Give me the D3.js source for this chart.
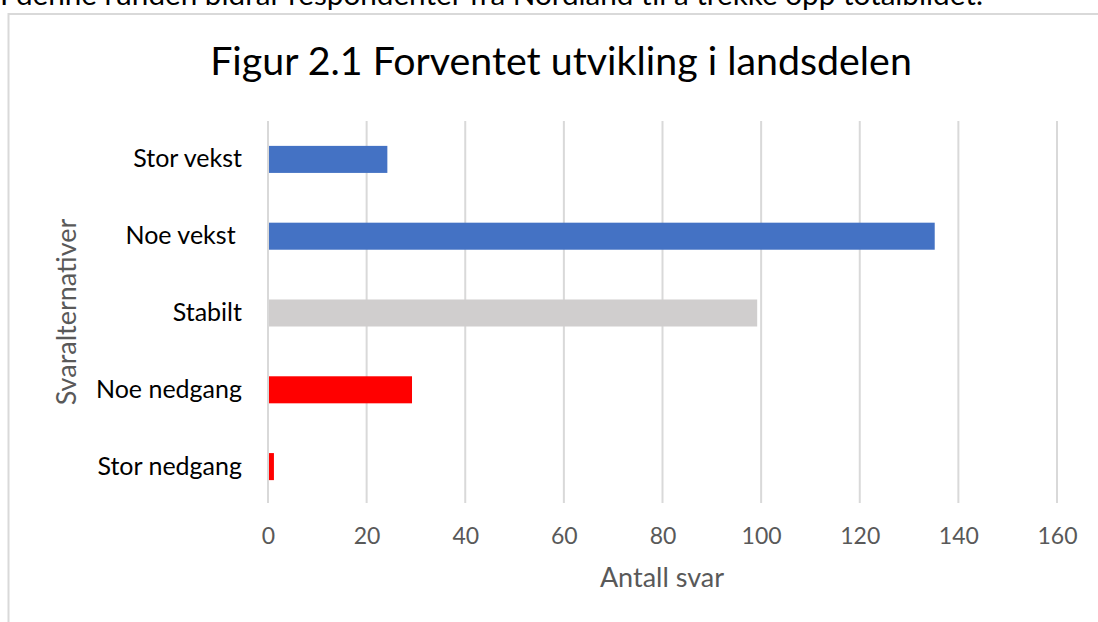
<!DOCTYPE html>
<html>
<head>
<meta charset="utf-8">
<script src="https://cdn.jsdelivr.net/npm/d3@7"></script>
<style>
  html, body { margin: 0; padding: 0; background: #fff; overflow: hidden; }
  svg { display: block; font-family: Lato, "Open Sans", sans-serif; }
  text { white-space: pre; }
</style>
</head>
<body>
<svg id="chart" width="1098" height="622"></svg>
<script>
// answer options, top to bottom
var categories = ["Stor vekst", "Noe vekst ", "Stabilt", "Noe nedgang", "Stor nedgang"];
// number of answers per option
var answers = [24, 135, 99, 29, 1];
var barColors = ["#4472c4", "#4472c4", "#d0cece", "#ff0000", "#ff0000"];
var xTicks = [0, 20, 40, 60, 80, 100, 120, 140, 160];

var titleText = "Figur 2.1 Forventet utvikling i landsdelen";
var xTitle = "Antall svar";
var yTitle = "Svaralternativer";
var bodyLine = "I denne runden bidrar respondenter fra Nordland til å trekke opp totalbildet.";

var data = categories.map(function(c, i){
	return {cat: c, val: answers[i], color: barColors[i]};
});

var svg = d3.select("#chart");

//scale a text's font size so its width matches w
function fitWidth(sel, w){
	var len = sel.node().getComputedTextLength();
	var fs = parseFloat(sel.attr("font-size"));
	sel.attr("font-size", (fs * w / len).toFixed(2));
}

//paragraph line cut off by the top of the screenshot
svg.append("text")
.attr("x", 0)
.attr("y", 4.5)
.attr("font-size", 26)
.attr("fill", "#000")
.text(bodyLine)
.call(fitWidth, 983);

//chart frame, only top and left edges are visible
svg.append("path")
.attr("d", "M8.5,640 V14 H1110")
.attr("fill", "none")
.attr("stroke", "#d9d9d9")
.attr("stroke-width", 2);

var x = d3.scaleLinear()
.domain([0, 160])
.range([268, 1057]);

var y = d3.scaleBand()
.domain(categories)
.range([121, 505])
.paddingInner(0.648)
.paddingOuter(0.324);

//vertical gridlines
svg.append("g")
.selectAll("line")
.data(xTicks)
.enter()
.append("line")
.attr("x1", function(d){return x(d);})
.attr("x2", function(d){return x(d);})
.attr("y1", 121)
.attr("y2", 503)
.attr("stroke", "#d9d9d9")
.attr("stroke-width", 2);

//bars
svg.append("g")
.selectAll("rect")
.data(data)
.enter()
.append("rect")
.attr("x", x(0) + 1)
.attr("y", function(d){return y(d.cat);})
.attr("width", function(d){return x(d.val) - x(0);})
.attr("height", y.bandwidth())
.attr("fill", function(d){return d.color;});

//x axis tick labels
var xAxis = d3.axisBottom(x)
.tickValues(xTicks)
.tickSize(0)
.tickPadding(0);

var xg = svg.append("g")
.attr("transform", "translate(0, 528)")
.call(xAxis);
xg.select(".domain").remove();
xg.selectAll("text")
.attr("font-family", "Lato, sans-serif")
.attr("font-size", 23)
.attr("fill", "#595959");

//category labels
var yAxis = d3.axisLeft(y)
.tickSize(0)
.tickPadding(0);

var yg = svg.append("g")
.attr("transform", "translate(242, 0)")
.call(yAxis);
yg.select(".domain").remove();
yg.selectAll("text")
.attr("font-family", "Lato, sans-serif")
.attr("font-size", 25)
.attr("fill", "#000");

//chart title
svg.append("text")
.attr("x", 561)
.attr("y", 75)
.attr("text-anchor", "middle")
.attr("font-size", 33)
.attr("fill", "#000")
.text(titleText)
.call(fitWidth, 702);

//axis titles
svg.append("text")
.attr("x", 662)
.attr("y", 587)
.attr("text-anchor", "middle")
.attr("font-size", 27)
.attr("fill", "#595959")
.text(xTitle);

svg.append("text")
.attr("transform", "translate(76, 312) rotate(-90)")
.attr("text-anchor", "middle")
.attr("font-size", 27)
.attr("fill", "#595959")
.text(yTitle);
</script>
</body>
</html>
